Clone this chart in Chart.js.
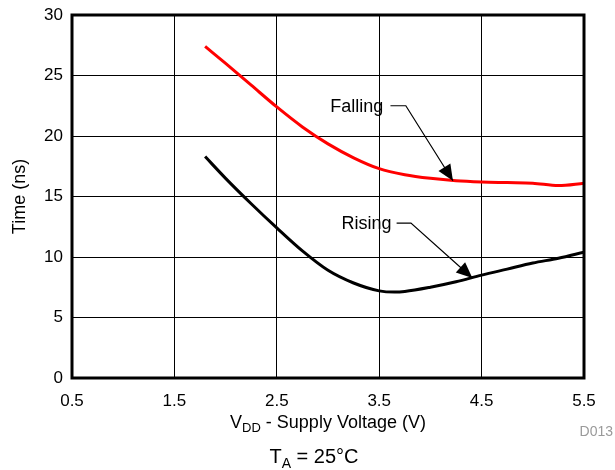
<!DOCTYPE html>
<html>
<head>
<meta charset="utf-8">
<script src="https://cdn.jsdelivr.net/npm/chart.js@4/dist/chart.umd.min.js"></script>
<style>
  html, body { margin: 0; padding: 0; background: #fff; }
</style>
</head>
<body>
<canvas id="c" width="615" height="470"></canvas>
<script>
"use strict";

/* values */
const xTicks = [0.5, 1.5, 2.5, 3.5, 4.5, 5.5];
const yTicks = [0, 5, 10, 15, 20, 25, 30];

const fallV = [1.8, 2.0, 2.25, 2.5, 2.75, 3.0, 3.25, 3.5, 3.75, 4.0, 4.25, 4.5, 4.75, 5.0, 5.25, 5.5];
const fallT = [27.4, 26.0, 24.2, 22.4, 20.75, 19.35, 18.2, 17.3, 16.8, 16.5, 16.3, 16.2, 16.15, 16.1, 15.9, 16.1];

const riseV = [1.8, 2.0, 2.25, 2.5, 2.75, 3.0, 3.25, 3.5, 3.65, 3.75, 4.0, 4.25, 4.5, 4.75, 5.0, 5.25, 5.5];
const riseT = [18.3, 16.5, 14.4, 12.4, 10.5, 8.9, 7.85, 7.2, 7.1, 7.15, 7.5, 7.95, 8.5, 9.0, 9.5, 9.9, 10.4];

/* callouts, in data units: label end, leader elbow, arrow tip */
const callouts = [
  { text: "Falling", at: [3.54, 22.5], from: 3.61, elbow: 3.76, tip: [4.22, 16.3] },
  { text: "Rising",  at: [3.62, 12.8], from: 3.67, elbow: 3.81, tip: [4.41, 8.26] },
];

const FONT = "'Liberation Sans', Arial, sans-serif";
const pts = (xs, ys) => xs.map((x, i) => ({ x, y: ys[i] }));

const decor = {
  id: "decor",
  afterDatasetsDraw(chart) {
    const { ctx, chartArea: a, scales: { x, y } } = chart;
    ctx.save();

    /* heavy plot frame */
    ctx.strokeStyle = "#000"; ctx.lineWidth = 3;
    ctx.strokeRect(a.left, a.top, a.right - a.left, a.bottom - a.top);

    /* callouts with leader + filled arrowhead */
    ctx.font = "18px " + FONT; ctx.fillStyle = "#000";
    ctx.textAlign = "right"; ctx.textBaseline = "middle";
    ctx.lineWidth = 1.2;
    callouts.forEach((c) => {
      const ty = y.getPixelForValue(c.at[1]);
      ctx.fillText(c.text, x.getPixelForValue(c.at[0]), ty + 1);
      const ex = x.getPixelForValue(c.elbow);
      const tx = x.getPixelForValue(c.tip[0]), tyy = y.getPixelForValue(c.tip[1]);
      ctx.beginPath();
      ctx.moveTo(x.getPixelForValue(c.from), ty);
      ctx.lineTo(ex, ty); ctx.lineTo(tx, tyy); ctx.stroke();
      const ang = Math.atan2(tyy - ty, tx - ex), L = 16, W = 7;
      const bx = tx - L * Math.cos(ang), by = tyy - L * Math.sin(ang);
      ctx.beginPath();
      ctx.moveTo(tx, tyy);
      ctx.lineTo(bx + W * Math.sin(ang), by - W * Math.cos(ang));
      ctx.lineTo(bx - W * Math.sin(ang), by + W * Math.cos(ang));
      ctx.closePath(); ctx.fill();
    });

    /* text with subscript, centred on cx */
    function subText(parts, cx, base) {
      let w = 0;
      parts.forEach((p) => { ctx.font = p[1] + "px " + FONT; w += ctx.measureText(p[0]).width; });
      let px = cx - w / 2;
      ctx.textAlign = "left"; ctx.textBaseline = "alphabetic";
      parts.forEach((p) => {
        ctx.font = p[1] + "px " + FONT;
        ctx.fillText(p[0], px, base + (p[2] || 0));
        px += ctx.measureText(p[0]).width;
      });
    }
    const mid = (a.left + a.right) / 2;
    subText([["V", 18], ["DD", 13, 4], [" - Supply Voltage (V)", 18]], mid, 428);
    subText([["T", 20], ["A", 14, 5], [" = 25\u00B0C", 20]], 314, 463);

    /* y title */
    ctx.save();
    ctx.translate(25, (a.top + a.bottom) / 2);
    ctx.rotate(-Math.PI / 2);
    ctx.font = "18px " + FONT; ctx.textAlign = "center"; ctx.textBaseline = "alphabetic";
    ctx.fillText("Time (ns)", 0, 0);
    ctx.restore();

    /* figure id */
    ctx.font = "14px " + FONT; ctx.fillStyle = "#9a9a9a";
    ctx.textAlign = "right"; ctx.textBaseline = "alphabetic";
    ctx.fillText("D013", 613, 436);
    ctx.restore();
  },
};

new Chart(document.getElementById("c"), {
  type: "line",
  data: {
    datasets: [
      { label: "Falling", data: pts(fallV, fallT), borderColor: "#ff0000",
        borderWidth: 3, pointRadius: 0, cubicInterpolationMode: "monotone" },
      { label: "Rising", data: pts(riseV, riseT), borderColor: "#000",
        borderWidth: 3, pointRadius: 0, cubicInterpolationMode: "monotone" },
    ],
  },
  options: {
    responsive: false, animation: false, devicePixelRatio: 1,
    layout: { padding: { top: 15, right: 31, left: 0, bottom: 0 } },
    plugins: { legend: { display: false }, tooltip: { enabled: false } },
    scales: {
      x: {
        type: "linear", min: xTicks[0], max: xTicks[xTicks.length - 1],
        afterFit: (s) => { s.height = 92; s.paddingLeft = 0; s.paddingRight = 0; },
        afterBuildTicks: (s) => { s.ticks = xTicks.map((v) => ({ value: v })); },
        ticks: { color: "#000", padding: 13, font: { family: FONT, size: 17 },
                 callback: (v) => v.toFixed(1) },
        grid: { color: "#000", lineWidth: 1, drawTicks: false },
        border: { display: false },
      },
      y: {
        min: yTicks[0], max: yTicks[yTicks.length - 1],
        afterFit: (s) => { s.width = 72; s.paddingTop = 0; s.paddingBottom = 0; },
        afterBuildTicks: (s) => { s.ticks = yTicks.map((v) => ({ value: v })); },
        ticks: { color: "#000", padding: 9, font: { family: FONT, size: 17 } },
        grid: { color: "#000", lineWidth: 1, drawTicks: false },
        border: { display: false },
      },
    },
  },
  plugins: [decor],
});
</script>
</body>
</html>
